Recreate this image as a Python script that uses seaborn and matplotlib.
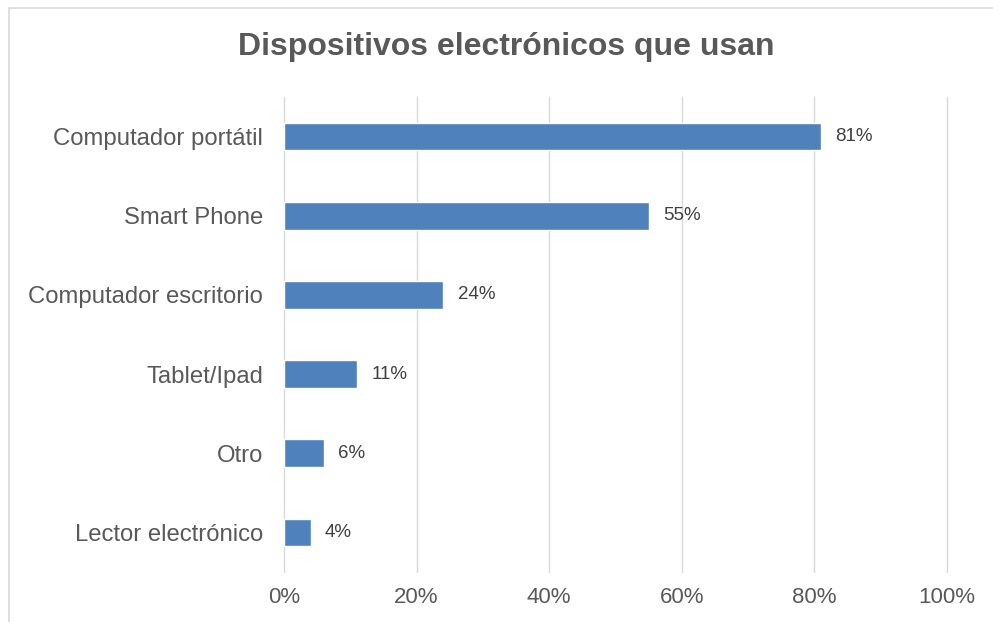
import matplotlib
matplotlib.use("Agg")
import matplotlib.pyplot as plt
import seaborn as sns
import pandas as pd
from matplotlib.patches import Rectangle

categories = ["Computador portátil", "Smart Phone", "Computador escritorio",
              "Tablet/Ipad", "Otro", "Lector electrónico"]
values = [81, 55, 24, 11, 6, 4]
xticks = [0, 20, 40, 60, 80, 100]
xtick_labels = ["0%", "20%", "40%", "60%", "80%", "100%"]
title = "Dispositivos electrónicos que usan"

df = pd.DataFrame({"cat": categories, "val": values})

sns.set_theme(style="white")
plt.rcParams["font.family"] = ["Liberation Sans", "DejaVu Sans"]

W, H = 993, 622
fig = plt.figure(figsize=(W / 100, H / 100), dpi=100)
ax = fig.add_axes([284 / W, 1 - 572 / H, (947 - 284) / W, (572 - 97) / H])

sns.barplot(data=df, x="val", y="cat", orient="h", color="#4F81BD",
            saturation=1, width=0.35, ax=ax, order=categories)

ax.set_xlim(0, 100)
ax.set_ylim(5.5, -0.5)
ax.set_xticks(xticks)
ax.set_xticklabels(xtick_labels, fontsize=16, color="#595959")
ax.tick_params(axis="y", labelsize=17.2, labelcolor="#595959", length=0, pad=15)
ax.tick_params(axis="x", length=0, pad=11)
ax.set_xlabel("")
ax.set_ylabel("")
for s in ax.spines.values():
    s.set_visible(False)
ax.xaxis.grid(True, color="#D9D9D9", linewidth=1.0)
for gl in ax.get_xgridlines():
    gl.set_clip_on(False)
ax.set_axisbelow(True)

for i, v in enumerate(values):
    ax.text(v + 2.2, i, f"{v}%", va="center", ha="left", fontsize=13.5, color="#404040")

fig.text(506 / W, 1 - 47 / H, title, ha="center", va="center",
         fontsize=23, fontweight="bold", color="#595959")

fig.patches.append(Rectangle((9 / W, -0.1), 1.2, (H - 8) / H + 0.1,
                             transform=fig.transFigure, fill=False,
                             edgecolor="#D9D9D9", linewidth=1.2))

fig.savefig("out.png", dpi=100, facecolor="white")
